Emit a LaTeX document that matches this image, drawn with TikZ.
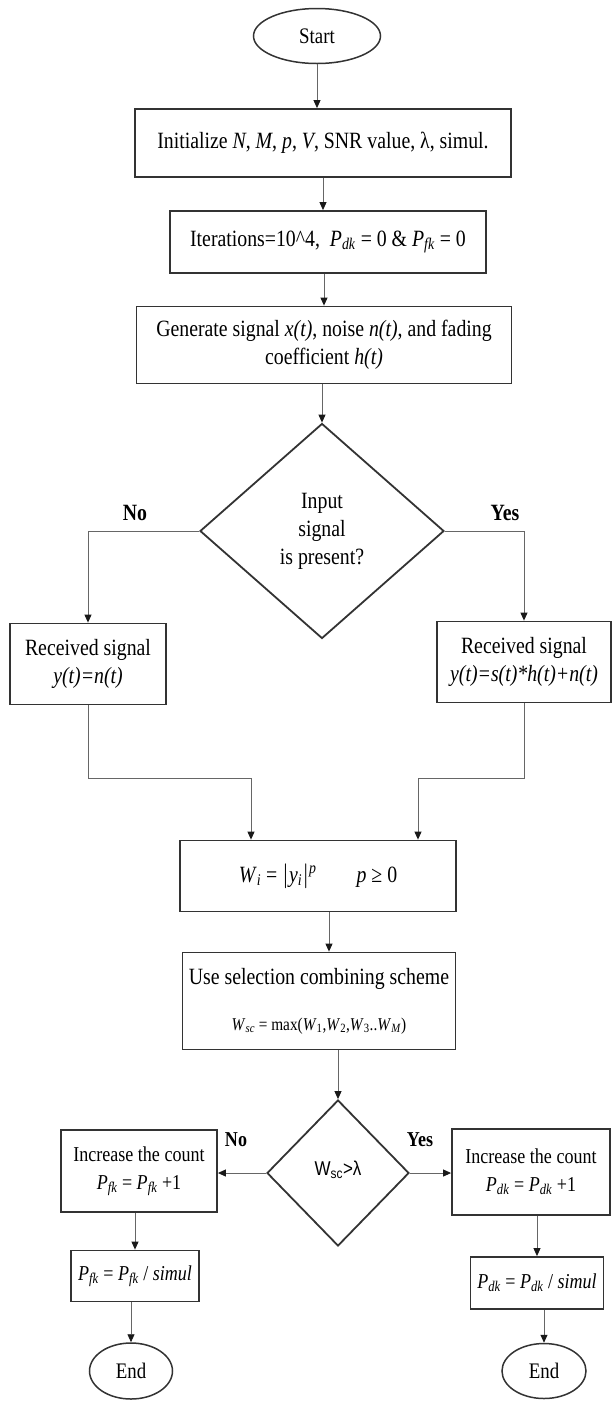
\documentclass[tikz,border=0pt]{standalone}
\usepackage{fontspec}
\setmainfont{Liberation Serif}[FakeStretch=0.85]
\newfontfamily\sansfam{Liberation Sans}[FakeStretch=0.85]
\usetikzlibrary{shapes.geometric,arrows.meta,positioning}

\newcommand{\Pdk}{\textit{P}\textsubscript{\textit{dk}}}
\newcommand{\Pfk}{\textit{P}\textsubscript{\textit{fk}}}

\begin{document}
\begin{tikzpicture}[x=1pt, y=-1pt,
	box/.style={draw=black!80, line width=1.8pt, rectangle, align=center, inner sep=0pt,
		font=\fontsize{23.3}{28}\selectfont},
	smallbox/.style={box, font=\fontsize{21.2}{28}\selectfont},
	term/.style={draw=black!80, line width=1.5pt, ellipse, inner sep=0pt,
		font=\fontsize{22.2}{24}\selectfont},
	decide/.style={draw=black!80, line width=1.8pt, diamond, inner sep=0pt, align=center,
		font=\fontsize{23.3}{28}\selectfont},
	flow/.style={draw=black!60, line width=0.9pt, -{Triangle[length=8pt,width=7pt,color=black!90]}},
	answer/.style={font=\fontsize{23.3}{24}\bfseries\selectfont}
]

	\useasboundingbox (0,0) rectangle (612,1401);

	\def\xL{88}
	\def\xR{524}
	%
	\def\yJoin{778}

	% main column
	\node[term, minimum width=127pt, minimum height=55pt] (start) at (317,36) {Start};
	\node[box, minimum width=376pt, minimum height=68pt] (init) at (323,143)
		{Initialize \textit{N}, \textit{M}, \textit{p}, \textit{V}, SNR value, λ, simul.};
	\node[box, minimum width=316pt, minimum height=62pt] (iter) at (328,242)
		{Iterations=10\textasciicircum 4,\ \ \Pdk\ = 0 \& \Pfk\ = 0};
	\node[box, minimum width=375pt, minimum height=77pt] (gen) at (324,345)
		{Generate signal \textit{x(t)}, noise \textit{n(t)}, and fading\\ coefficient \textit{h(t)}};
	\node[decide, minimum width=244pt, minimum height=215pt] (sig) at (322,531)
		{Input\\ signal\\ is present?};

	% branches
	\node[answer] (no1) at (135,513) {No};
	\node[answer] (yes1) at (505,513) {Yes};
	\node[box, minimum width=156pt, minimum height=81pt] (rxno) at (\xL,664)
		{Received signal\\ \textit{y(t)=n(t)}};
	\node[box, minimum width=174pt, minimum height=81pt] (rxyes) at (\xR,662)
		{Received signal\\ \textit{y(t)=s(t)*h(t)+n(t)}};

	% combining
	\node[box, minimum width=276pt, minimum height=71pt] (wbox) at (318,876)
		{\textit{W}\textsubscript{\textit{i}} = $|$\textit{y}\textsubscript{\textit{i}}$|$\textsuperscript{\textit{p}}\hspace{40pt}\textit{p} ≥ 0};
	\node[box, minimum width=273pt, minimum height=97pt] (sel) at (319,1001)
		{Use selection combining scheme\\[18pt]
		{\fontsize{18}{20}\selectfont \textit{W}\textsubscript{\textit{sc}} = max(\textit{W}\textsubscript{1},\textit{W}\textsubscript{2},\textit{W}\textsubscript{3}..\textit{W}\textsubscript{\textit{M}})}};
	\node[decide, minimum width=142pt, minimum height=146pt] (cmp) at (338,1173)
		{\raisebox{9pt}{\sansfam\fontsize{20}{22}\selectfont W\textsubscript{sc}>λ}};

	% outcomes
	\node[answer, font=\fontsize{21.2}{24}\bfseries\selectfont] (no2) at (236,1140) {No};
	\node[answer, font=\fontsize{21.2}{24}\bfseries\selectfont] (yes2) at (420,1140) {Yes};
	\node[smallbox, minimum width=156pt, minimum height=82pt] (incf) at (139,1171)
		{Increase the count\\ \Pfk\ = \Pfk\ +1};
	\node[smallbox, minimum width=158pt, minimum height=86pt] (incd) at (531,1172)
		{Increase the count\\ \Pdk\ = \Pdk\ +1};
	\node[smallbox, minimum width=128pt, minimum height=51pt] (pfa) at (135,1276)
		{\Pfk\ = \Pfk\ / \textit{simul}};
	\node[smallbox, minimum width=133pt, minimum height=52pt] (pdet) at (537,1283)
		{\Pdk\ = \Pdk\ / \textit{simul}};
	\node[term, minimum width=83pt, minimum height=56pt] (endf) at (131,1371) {End};
	\node[term, minimum width=84pt, minimum height=55pt] (endd) at (544,1371) {End};

	% connectors
	\draw[flow] (start) -- (start |- init.north);
	\draw[flow] (init.south) -- (init.south |- iter.north);
	\draw[flow] (gen.north |- iter.south) -- (gen.north);
	\draw[flow] (gen.south -| sig.north) -- (sig.north);
	\draw[flow] (sig.west) -| (rxno.north);
	\draw[flow] (sig.east) -| (rxyes.north);
	\draw[flow] (rxno.south) -- (\xL,\yJoin) -| ([xshift=-67pt]wbox.north);
	\draw[flow] (rxyes.south) -- (\xR,\yJoin) -| ([xshift=100pt]wbox.north);
	\draw[flow] ([xshift=11pt]wbox.south) -- ([xshift=11pt]wbox.south |- sel.north);
	\draw[flow] (sel.south -| cmp.north) -- (cmp.north);
	\draw[flow] (cmp.west) -- (cmp.west -| incf.east);
	\draw[flow] (cmp.east) -- (cmp.east -| incd.west);
	\draw[flow] (pfa.north |- incf.south) -- (pfa.north);
	\draw[flow] (pfa.south -| endf.north) -- (endf.north);
	\draw[flow] (pdet.north |- incd.south) -- (pdet.north);
	\draw[flow] (pdet.south -| endd.north) -- (endd.north);

\end{tikzpicture}
\end{document}
